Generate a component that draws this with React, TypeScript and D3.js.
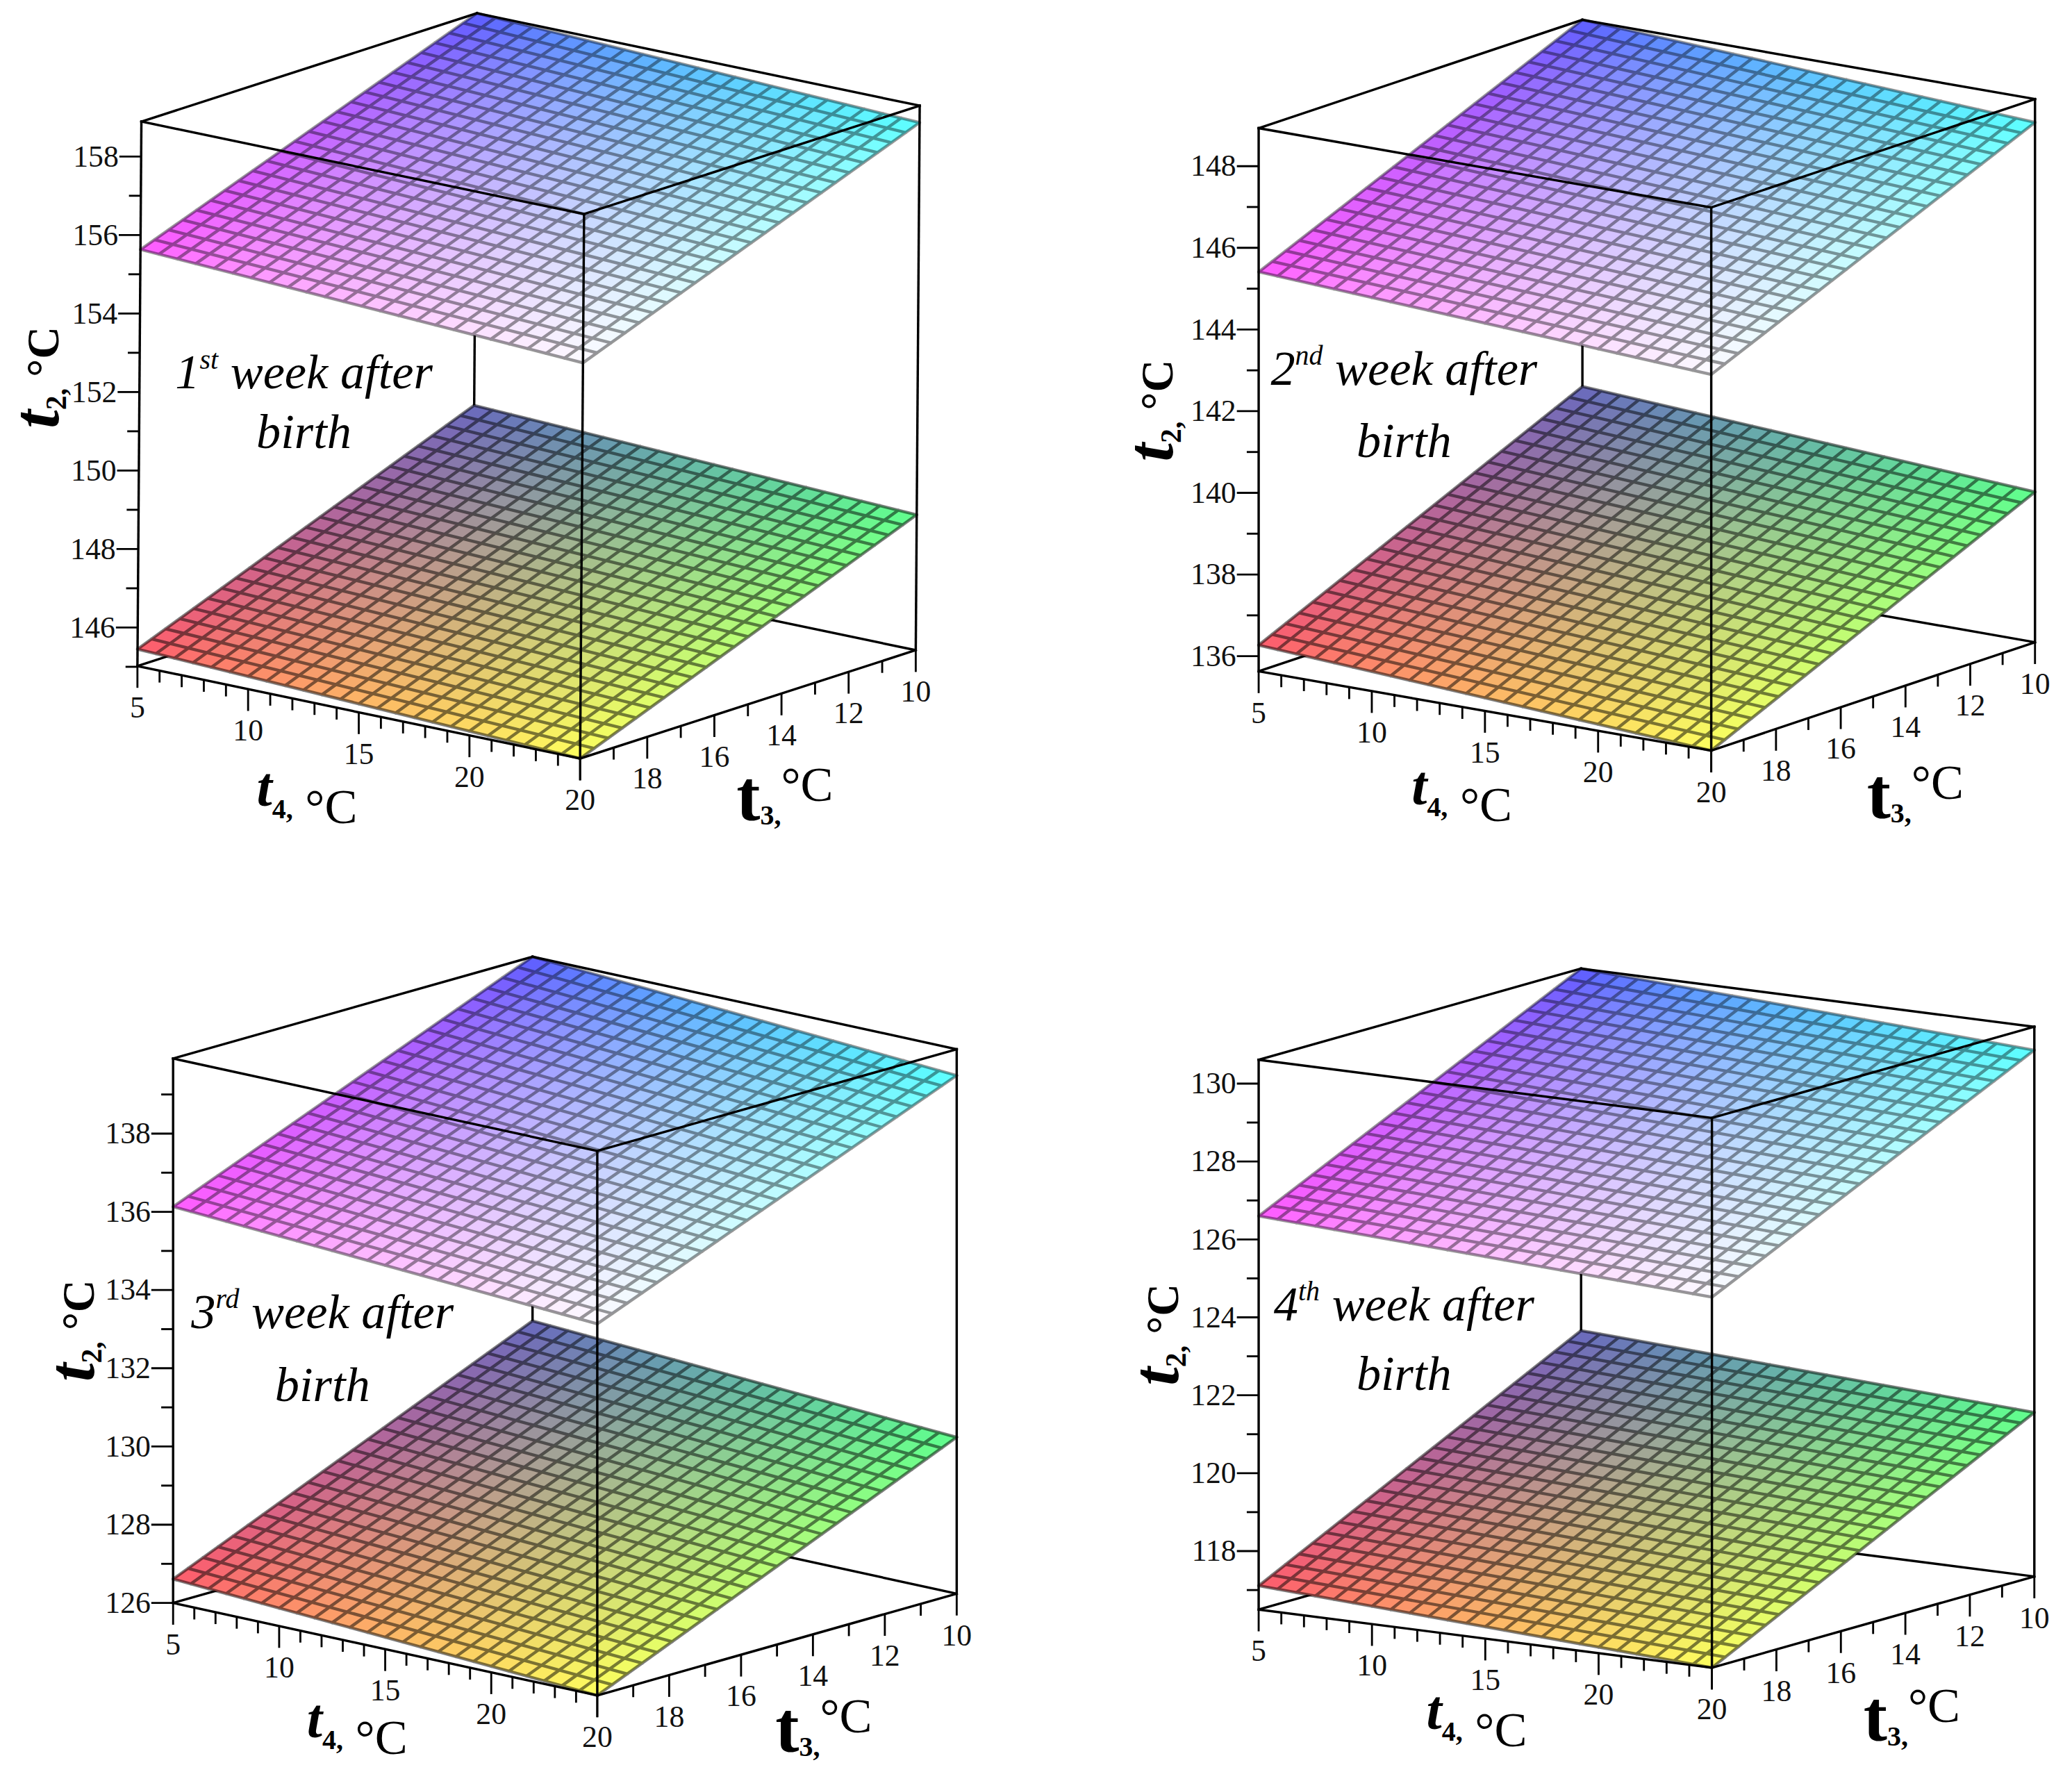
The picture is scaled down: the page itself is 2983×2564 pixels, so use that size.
import React from "react";
import * as d3 from "d3";

const WIDTH = 2983;
const HEIGHT = 2564;
const UNIT = WIDTH / 1568;

// ---------------- data ----------------
const weekOrdinals = ["1", "2", "3", "4"];
const weekSuffixes = ["st", "nd", "rd", "th"];
const t4Extent = [5, 25];
const t3Extent = [20, 10];
const t4TickLabels = [5, 10, 15, 20];
const t3TickLabels = [10, 12, 14, 16, 18, 20];
// surface corner values, order: (t4=5,t3=20), (t4=25,t3=20), (t4=25,t3=10), (t4=5,t3=10)
const lowerSurfaceWeek1 = [145.45, 145.02, 148.47, 148.9];
const upperSurfaceWeek1 = [155.63, 155.1, 158.46, 158.89];
const lowerSurfaceWeek2 = [136.27, 135.63, 139.31, 139.95];
const upperSurfaceWeek2 = [145.41, 144.84, 148.36, 148.93];
const lowerSurfaceWeek3 = [126.61, 126.0, 130.0, 130.61];
const upperSurfaceWeek3 = [136.13, 135.5, 139.25, 139.92];
const lowerSurfaceWeek4 = [117.11, 116.5, 120.71, 121.32];
const upperSurfaceWeek4 = [126.6, 126.01, 130.01, 130.61];
const t2TickLabelsWeek1 = [146, 148, 150, 152, 154, 156, 158];
const t2TickLabelsWeek2 = [136, 138, 140, 142, 144, 146, 148];
const t2TickLabelsWeek3 = [126, 128, 130, 132, 134, 136, 138];
const t2TickLabelsWeek4 = [118, 120, 122, 124, 126, 128, 130];

const lowerSurfaces = [lowerSurfaceWeek1, lowerSurfaceWeek2, lowerSurfaceWeek3, lowerSurfaceWeek4];
const upperSurfaces = [upperSurfaceWeek1, upperSurfaceWeek2, upperSurfaceWeek3, upperSurfaceWeek4];
const t2TickLabels = [t2TickLabelsWeek1, t2TickLabelsWeek2, t2TickLabelsWeek3, t2TickLabelsWeek4];

// ---------------- styles / layout ----------------
const GRID_N = 24;
const lowerColors = ["#ff5c6c", "#ffff5e", "#5eff8e", "#6868be"];
const upperColors = ["#ff58ff", "#fdfbff", "#58ffff", "#5a5aff"];
const FONT = "'Liberation Serif', 'Times New Roman', serif";

type Layout = {
  origin: number[];
  ax: number[];
  ay: number[];
  az: number[];
  zTitle: number[];
  t4Title: number[];
  t3Title: number[];
  note: number[];
};

const layouts: Layout[] = [
  { origin: [104, 504], ax: [335, 70], ay: [254, -82], az: [3, -412], zTitle: [-60, 0.53], t4Title: [0.383, 36], t3Title: [0.61, 46], note: [126, -210, -165] },
  { origin: [952.5, 508], ax: [342.5, 60], ay: [245, -82], az: [0, -411], zTitle: [-65, 0.48], t4Title: [0.449, 40.5], t3Title: [0.63, 50.5], note: [110, -217, -162] },
  { origin: [131, 1213], ax: [321, 70], ay: [272, -77], az: [0, -412], zTitle: [-60, 0.5], t4Title: [0.434, 31.5], t3Title: [0.63, 42], note: [113, -208, -153] },
  { origin: [952.5, 1218], ax: [343, 44], ay: [244, -69], az: [0, -416], zTitle: [-61, 0.5], t4Title: [0.481, 46.5], t3Title: [0.62, 55], note: [110, -219, -166] },
];

function bilinear(c: number[], a: number, b: number) {
  return (1 - a) * (1 - b) * c[0] + a * (1 - b) * c[1] + a * b * c[2] + (1 - a) * b * c[3];
}
function colorAt(cols: string[], a: number, b: number, gamma: number) {
  const ip = d3.interpolateRgb.gamma(gamma);
  const front = ip(cols[0], cols[1])(a);
  const back = ip(cols[3], cols[2])(a);
  return ip(front, back)(b);
}

function Panel({ idx }: { idx: number }) {
  const L = layouts[idx];
  const lower = lowerSurfaces[idx];
  const upper = upperSurfaces[idx];
  const zMin = d3.min(lower) as number;
  const zMax = d3.max(upper) as number;
  const uS = d3.scaleLinear().domain(t4Extent).range([0, 1]);
  const vS = d3.scaleLinear().domain(t3Extent).range([0, 1]);
  const wS = d3.scaleLinear().domain([zMin, zMax]).range([0, 1]);
  const O = L.origin, A = L.ax, B = L.ay, C = L.az;
  const P = (a: number, b: number, c: number): [number, number] => [
    O[0] + a * A[0] + b * B[0] + c * C[0],
    O[1] + a * A[1] + b * B[1] + c * C[1],
  ];
  const line = d3.line();
  const seg = (p: [number, number], q: [number, number]) => line([p, q]) as string;

  const surface = (corners: number[], cols: string[], gamma: number, gridOpacity: number, key: string) => {
    const cells: React.ReactNode[] = [];
    for (let i = 0; i < GRID_N; i++) {
      for (let j = 0; j < GRID_N; j++) {
        const a0 = i / GRID_N, a1 = (i + 1) / GRID_N, b0 = j / GRID_N, b1 = (j + 1) / GRID_N;
        const pts: [number, number][] = [
          [a0, b0], [a1, b0], [a1, b1], [a0, b1],
        ].map(([a, b]) => P(a, b, wS(bilinear(corners, a, b))));
        const fill = colorAt(cols, (a0 + a1) / 2, (b0 + b1) / 2, gamma);
        cells.push(
          <path key={`${key}c${i}-${j}`} d={(line(pts) as string) + "Z"} fill={fill} stroke={fill} strokeWidth={0.5} />
        );
      }
    }
    const grid: React.ReactNode[] = [];
    for (let k = 0; k <= GRID_N; k++) {
      const t = k / GRID_N;
      grid.push(
        <path key={`${key}ga${k}`} d={seg(P(t, 0, wS(bilinear(corners, t, 0))), P(t, 1, wS(bilinear(corners, t, 1))))} />
      );
      grid.push(
        <path key={`${key}gb${k}`} d={seg(P(0, t, wS(bilinear(corners, 0, t))), P(1, t, wS(bilinear(corners, 1, t))))} />
      );
    }
    return (
      <g key={key}>
        {cells}
        <g stroke="#000" strokeWidth={2.3} opacity={gridOpacity} fill="none" strokeLinecap="round">
          {grid}
        </g>
      </g>
    );
  };

  const b000 = P(0, 0, 0), b100 = P(1, 0, 0), b110 = P(1, 1, 0), b010 = P(0, 1, 0);
  const t000 = P(0, 0, 1), t100 = P(1, 0, 1), t110 = P(1, 1, 1), t010 = P(0, 1, 1);
  const backEdges = [[b010, b000], [b010, b110], [b010, t010]];
  const frontEdges = [
    [b000, b100], [b100, b110], [b000, t000], [b100, t100], [b110, t110],
    [t000, t100], [t100, t110], [t110, t010], [t010, t000],
  ];

  const MAJ = 16.5, MIN = 9;
  const zTicks = d3.range(Math.ceil(zMin - 0.05), Math.floor(zMax + 0.05) + 1);
  const t4Ticks = d3.range(t4Extent[0], t4Extent[1] + 1);
  const t3Ticks = d3.range(t3Extent[1], t3Extent[0] + 1);
  const zLabels = t2TickLabels[idx];

  const ticks: React.ReactNode[] = [];
  const labels: React.ReactNode[] = [];
  zTicks.forEach((z) => {
    const p = P(0, 0, wS(z));
    const major = zLabels.includes(z);
    ticks.push(<path key={`zt${z}`} d={seg(p, [p[0] - (major ? MAJ : MIN), p[1]])} />);
    if (major)
      labels.push(
        <text key={`zl${z}`} x={p[0] - MAJ - 0.5} y={p[1] + 7.5} textAnchor="end">{z}</text>
      );
  });
  t4Ticks.forEach((t) => {
    const p = P(uS(t), 0, 0);
    const major = t % 5 === 0;
    ticks.push(<path key={`t4t${t}`} d={seg(p, [p[0], p[1] + (major ? MAJ : MIN)])} />);
    if (t4TickLabels.includes(t))
      labels.push(<text key={`t4l${t}`} x={p[0]} y={p[1] + 39} textAnchor="middle">{t}</text>);
  });
  t3Ticks.forEach((t) => {
    const p = P(1, vS(t), 0);
    const major = t % 2 === 0;
    ticks.push(<path key={`t3t${t}`} d={seg(p, [p[0], p[1] + (major ? MAJ : MIN)])} />);
    if (t3TickLabels.includes(t))
      labels.push(<text key={`t3l${t}`} x={p[0]} y={p[1] + 39} textAnchor="middle">{t}</text>);
  });

  // axis titles
  const zT = P(0, 0, L.zTitle[1]);
  const zTx = O[0] + L.zTitle[0];
  const t4x = O[0] + L.t4Title[0] * A[0];
  const t4y = b100[1] + L.t4Title[1];
  const t3x = b100[0] + L.t3Title[0] * B[0];
  const t3y = b100[1] + L.t3Title[1];
  const nx = O[0] + L.note[0];

  return (
    <g>
      <g stroke="#000" strokeWidth={1.8} fill="none">
        {backEdges.map((e, k) => <path key={`be${k}`} d={seg(e[0] as any, e[1] as any)} />)}
      </g>
      {surface(lower, lowerColors, 1.4, 0.5, "lo")}
      {surface(upper, upperColors, 2.2, 0.4, "up")}
      <g stroke="#000" strokeWidth={1.8} fill="none" strokeLinecap="square">
        {frontEdges.map((e, k) => <path key={`fe${k}`} d={seg(e[0] as any, e[1] as any)} />)}
      </g>
      <g stroke="#000" strokeWidth={1.5} fill="none">{ticks}</g>
      <g fontFamily={FONT} fontSize={23} fill="#111">{labels}</g>
      <text transform={`translate(${zTx},${zT[1]}) rotate(-90)`} textAnchor="middle" fontFamily={FONT} fill="#000">
        <tspan fontSize={50} fontWeight="bold" fontStyle="italic">t</tspan>
        <tspan fontSize={22} fontWeight="bold" dy={6}>2,</tspan>
        <tspan fontSize={34} fontWeight="bold" dy={-6}>{" °C"}</tspan>
      </text>
      <text x={t4x} y={t4y} textAnchor="middle" fontFamily={FONT} fill="#000">
        <tspan fontSize={42} fontWeight="bold" fontStyle="italic">t</tspan>
        <tspan fontSize={21} fontWeight="bold" dy={9}>4,</tspan>
        <tspan fontSize={37} dy={4}>{" °C"}</tspan>
      </text>
      <text x={t3x} y={t3y} textAnchor="middle" fontFamily={FONT} fill="#000">
        <tspan fontSize={54} fontWeight="bold">t</tspan>
        <tspan fontSize={21} fontWeight="bold" dy={4}>3,</tspan>
        <tspan fontSize={37} dy={-18}>{"°C"}</tspan>
      </text>
      <g fontFamily={FONT} fontStyle="italic" fill="#000" textAnchor="middle">
        <text x={nx} y={O[1] + L.note[1]} fontSize={37}>
          <tspan>{weekOrdinals[idx]}</tspan>
          <tspan fontSize={21} dy={-15}>{weekSuffixes[idx]}</tspan>
          <tspan dy={15}>{" week after"}</tspan>
        </text>
        <text x={nx} y={O[1] + L.note[2]} fontSize={37}>birth</text>
      </g>
    </g>
  );
}

export default function App() {
  return (
    <div>
      <style>{"html,body{margin:0;padding:0;background:#fff}"}</style>
      <svg width={WIDTH} height={HEIGHT} viewBox={`0 0 ${WIDTH} ${HEIGHT}`} style={{ display: "block", background: "#fff" }}>
        <g transform={`scale(${UNIT})`}>
          {layouts.map((_, i) => <Panel key={i} idx={i} />)}
        </g>
      </svg>
    </div>
  );
}
